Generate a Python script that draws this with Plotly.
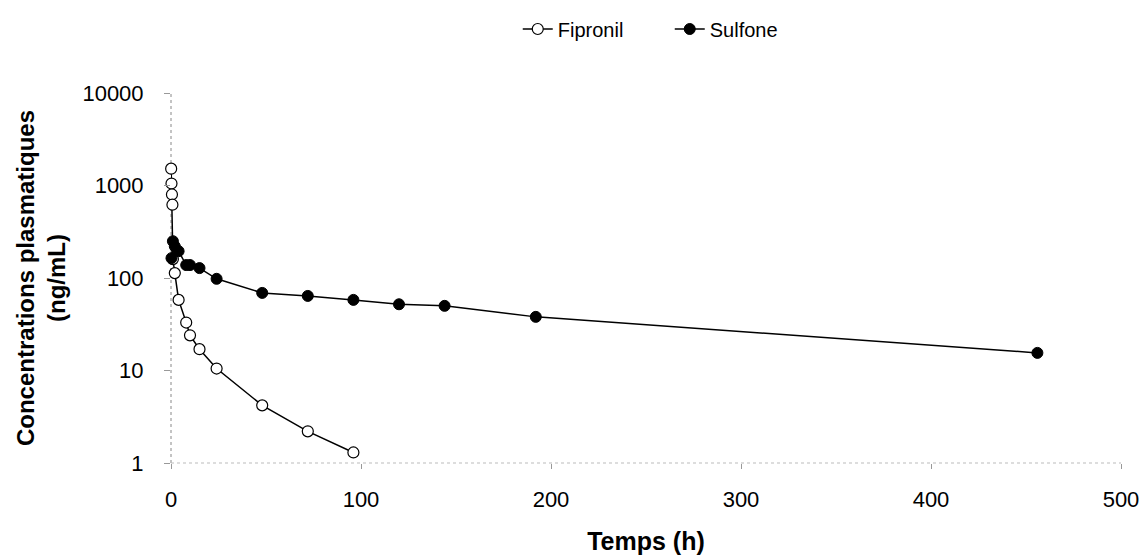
import plotly.graph_objects as go

# Fipronil (open circles)
fip_t = [0.083, 0.25, 0.5, 0.75, 1, 2, 4, 8, 10, 15, 24, 48, 72, 96]
fip_c = [1520, 1050, 800, 620, 160, 113, 58, 33, 24, 17, 10.5, 4.2, 2.2, 1.3]

# Sulfone (filled circles)
sul_t = [0.25, 1, 2, 4, 8, 10, 15, 24, 48, 72, 96, 120, 144, 192, 456]
sul_c = [164, 250, 220, 195, 138, 138, 128, 98, 69, 64, 58, 52, 50, 38, 15.5]

x_ticks = [0, 100, 200, 300, 400, 500]
y_ticks = [1, 10, 100, 1000, 10000]

font_family = "Liberation Sans, Arial, sans-serif"

fig = go.Figure()
fig.add_trace(go.Scatter(
    x=fip_t, y=fip_c, name="Fipronil", mode="lines+markers",
    line=dict(color="black", width=1.5),
    marker=dict(symbol="circle", size=11, color="white",
                line=dict(color="black", width=1.2)),
    cliponaxis=False,
))
fig.add_trace(go.Scatter(
    x=sul_t, y=sul_c, name="Sulfone", mode="lines+markers",
    line=dict(color="black", width=1.5),
    marker=dict(symbol="circle", size=11, color="black",
                line=dict(color="black", width=1)),
    cliponaxis=False,
))

# dotted grey axis lines
fig.add_shape(type="line", xref="x domain", yref="y domain",
              x0=0, x1=0, y0=0, y1=1,
              line=dict(color="#888888", width=1, dash="dot"), layer="below")
fig.add_shape(type="line", xref="x domain", yref="y domain",
              x0=0, x1=1, y0=0, y1=0,
              line=dict(color="#bbbbbb", width=1, dash="dot"), layer="below")

fig.update_layout(
    width=1147, height=558,
    margin=dict(l=171, r=26, t=93, b=95, autoexpand=False),
    paper_bgcolor="white", plot_bgcolor="white",
    font=dict(family=font_family, size=22, color="black"),
    showlegend=True,
    legend=dict(orientation="h", x=0.365, xanchor="left", y=1.173, yanchor="middle",
                font=dict(size=20), entrywidth=107, entrywidthmode="pixels",
                tracegroupgap=0),
    xaxis=dict(
        range=[0, 500], tickvals=x_ticks, ticktext=[str(v) for v in x_ticks],
        showgrid=False, zeroline=False, showline=False, automargin=False,
        ticks="outside", ticklen=5, tickcolor="#999999",
        ticklabelstandoff=12,
        title=dict(text="<b>Temps (h)</b>", font=dict(size=25), standoff=21),
    ),
    yaxis=dict(
        type="log", range=[0, 4], tickvals=y_ticks,
        ticktext=[str(v) for v in y_ticks],
        showgrid=False, zeroline=False, showline=False, automargin=False,
        ticks="outside", ticklen=6, tickcolor="#999999",
        ticklabelstandoff=16,
        title=dict(text="<b>Concentrations plasmatiques<br>(ng/mL)</b>",
                   font=dict(size=24), standoff=9),
    ),
)

fig.write_html("out.html")
